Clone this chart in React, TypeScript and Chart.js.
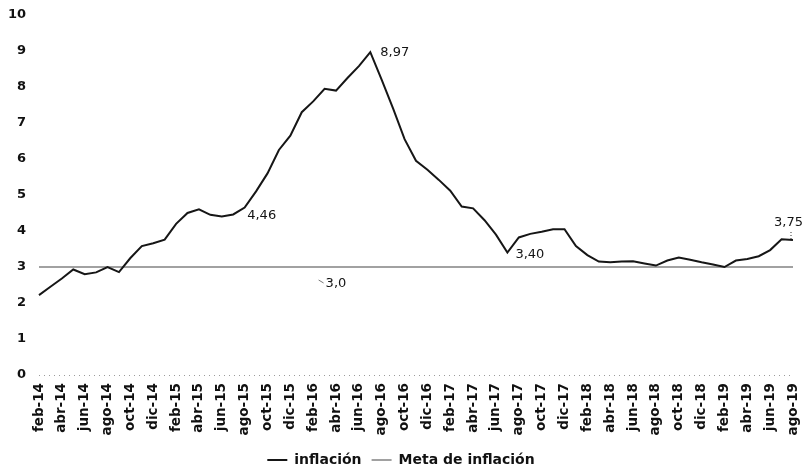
import React, { useEffect, useRef } from "react";
import { Chart, registerables } from "chart.js";

Chart.register(...registerables);

const categories = [
  "feb-14", "mar-14", "abr-14", "may-14", "jun-14", "jul-14", "ago-14", "sep-14", "oct-14", "nov-14", "dic-14",
  "ene-15", "feb-15", "mar-15", "abr-15", "may-15", "jun-15", "jul-15", "ago-15", "sep-15", "oct-15", "nov-15", "dic-15",
  "ene-16", "feb-16", "mar-16", "abr-16", "may-16", "jun-16", "jul-16", "ago-16", "sep-16", "oct-16", "nov-16", "dic-16",
  "ene-17", "feb-17", "mar-17", "abr-17", "may-17", "jun-17", "jul-17", "ago-17", "sep-17", "oct-17", "nov-17", "dic-17",
  "ene-18", "feb-18", "mar-18", "abr-18", "may-18", "jun-18", "jul-18", "ago-18", "sep-18", "oct-18", "nov-18", "dic-18",
  "ene-19", "feb-19", "mar-19", "abr-19", "may-19", "jun-19", "jul-19", "ago-19",
];

const inflacion = [
  2.22, 2.45, 2.68, 2.93, 2.8, 2.85, 3.0, 2.86, 3.25, 3.58, 3.66,
  3.76, 4.2, 4.5, 4.6, 4.45, 4.4, 4.46, 4.65, 5.1, 5.6, 6.25, 6.65,
  7.3, 7.6, 7.95, 7.9, 8.25, 8.58, 8.97, 8.2, 7.4, 6.55, 5.95, 5.7,
  5.42, 5.12, 4.68, 4.63, 4.3, 3.9, 3.4, 3.82, 3.92, 3.98, 4.05, 4.05,
  3.58, 3.33, 3.15, 3.13, 3.15, 3.16, 3.1, 3.04, 3.18, 3.26, 3.2, 3.13,
  3.07, 3.0, 3.18, 3.22, 3.3, 3.47, 3.77, 3.75,
];

const META_INFLACION = 3.0;
const metaInflacion = categories.map(() => META_INFLACION);

const seriesNames = ["inflación", "Meta de inflación"];

// indices of annotated points
const labeledInflacion = [17, 29, 41, 66];
const labeledMeta = [25];

const Y_MIN = 0;
const Y_MAX = 10;
const Y_STEP = 1;

const fmt = (v: number, d: number) => v.toFixed(d).replace(".", ",");

const FONT = "'DejaVu Sans', 'Verdana', sans-serif";

// style offsets for the labels (pixels)
const inflLabelStyle: Record<number, { dx: number; dy: number; leader?: boolean }> = {
  17: { dx: 14, dy: 1 },
  29: { dx: 10, dy: 1 },
  41: { dx: 8, dy: 2 },
  66: { dx: -19, dy: -17, leader: true },
};

const labelPlugin = {
  id: "valueLabels",
  afterDatasetsDraw(chart: any) {
    const { ctx, scales } = chart;
    const x = scales.x;
    const y = scales.y;
    ctx.save();
    ctx.font = `13px ${FONT}`;
    ctx.fillStyle = "#141414";
    ctx.textBaseline = "middle";
    ctx.textAlign = "left";
    for (const idx of labeledInflacion) {
      const st = inflLabelStyle[idx] || { dx: 8, dy: 0 };
      const px = x.getPixelForValue(idx);
      const py = y.getPixelForValue(inflacion[idx]);
      ctx.fillText(fmt(inflacion[idx], 2), px + st.dx, py + st.dy);
      if (st.leader) {
        ctx.save();
        ctx.strokeStyle = "#333";
        ctx.lineWidth = 1;
        ctx.setLineDash([1, 2]);
        ctx.beginPath();
        ctx.moveTo(px - 2, py - 8);
        ctx.lineTo(px - 2, py - 1);
        ctx.stroke();
        ctx.restore();
      }
    }
    for (const idx of labeledMeta) {
      const px = x.getPixelForValue(idx);
      const py = y.getPixelForValue(metaInflacion[idx]);
      ctx.fillText(fmt(metaInflacion[idx], 1), px + 1, py + 17);
      ctx.save();
      ctx.strokeStyle = "#777";
      ctx.lineWidth = 1;
      ctx.beginPath();
      ctx.moveTo(px - 6, py + 13);
      ctx.lineTo(px - 1, py + 16);
      ctx.stroke();
      ctx.restore();
    }
    ctx.restore();
  },
};

export default function App() {
  const ref = useRef<HTMLCanvasElement | null>(null);

  useEffect(() => {
    if (!ref.current) return;
    const chart = new Chart(ref.current, {
      type: "line",
      data: {
        labels: categories,
        datasets: [
          {
            label: seriesNames[0],
            data: inflacion,
            borderColor: "#161616",
            backgroundColor: "#161616",
            borderWidth: 2,
            pointRadius: 0,
            tension: 0,
          },
          {
            label: seriesNames[1],
            data: metaInflacion,
            borderColor: "#444444",
            backgroundColor: "#444444",
            borderWidth: 1.2,
            pointRadius: 0,
            tension: 0,
          },
        ],
      },
      options: {
        responsive: false,
        animation: false,
        devicePixelRatio: 1,
        layout: { padding: { top: 15, right: 9, left: 9, bottom: -6 } },
        plugins: {
          legend: {
            position: "bottom",
            labels: {
              boxWidth: 20,
              boxHeight: 0,
              padding: 10,
              color: "#111",
              font: { family: FONT, weight: "bold", size: 14 },
            },
          },
          tooltip: { enabled: false },
        },
        scales: {
          x: {
            type: "category",
            offset: false,
            grid: { display: false, drawTicks: false },
            border: { display: false },
            ticks: {
              autoSkip: false,
              maxRotation: 90,
              minRotation: 90,
              padding: 8,
              color: "#111",
              font: { family: FONT, weight: "bold", size: 13.5 },
              callback: (_v: any, i: number) => (i % 2 === 0 ? categories[i] : ""),
            },
            afterFit: (s: any) => {
              s.height = 68;
              s.paddingLeft = 0;
              s.paddingRight = 0;
            },
          },
          y: {
            min: Y_MIN,
            max: Y_MAX,
            ticks: {
              stepSize: Y_STEP,
              padding: 13,
              color: "#111",
              font: { family: FONT, weight: "bold", size: 13 },
            },
            grid: {
              drawTicks: false,
              lineWidth: 1,
              color: (c: any) => (c.tick && c.tick.value === 0 ? "rgba(130,130,130,0.8)" : "rgba(0,0,0,0)"),
            },
            border: { display: false, dash: [1, 4] },
            afterFit: (s: any) => {
              s.width = 30;
              s.paddingTop = 0;
              s.paddingBottom = 0;
            },
          },
        },
      },
      plugins: [labelPlugin],
    } as any);
    return () => chart.destroy();
  }, []);

  return (
    <div style={{ position: "absolute", left: 0, top: 0, width: 802, height: 471, background: "#fff" }}>
      <canvas ref={ref} width={802} height={471} style={{ display: "block" }} />
    </div>
  );
}
